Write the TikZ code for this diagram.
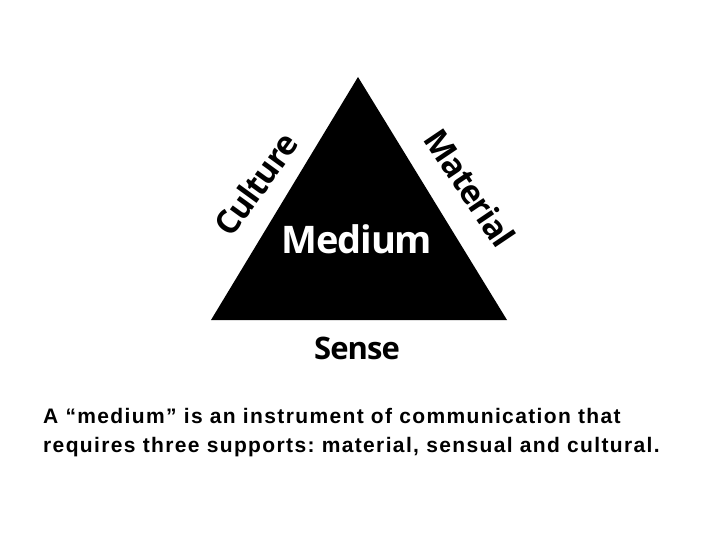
\documentclass[tikz,border=0pt]{standalone}
\usepackage{fontspec}
\setmainfont{Liberation Sans}
\newfontfamily\labelfont{Open Sans}[LetterSpace=-3]
\newfontfamily\capfont{Liberation Sans}[LetterSpace=6.5]
\frenchspacing
\begin{document}
\begin{tikzpicture}[x=1pt,y=-1pt,
  lab/.style={font=\labelfont\bfseries\fontsize{33}{36}\selectfont, inner sep=0pt},
  captext/.style={font=\capfont\bfseries\fontsize{21}{25}\selectfont, inner sep=0pt, anchor=base west}]
\useasboundingbox (0,0) rectangle (720,540);
\fill[white] (0,0) rectangle (720,540);
\coordinate (apex) at (358,77);
\coordinate (bl) at (211,320);
\coordinate (br) at (507,320);
\fill[black] (apex) -- (br) -- (bl) -- cycle;
\node[lab, white, font=\labelfont\bfseries\fontsize{38}{40}\selectfont, anchor=base] (medium) at (357,253) {Medium};
\node[lab, font=\labelfont\bfseries\fontsize{31}{33}\selectfont, anchor=base] (sense) at (357,359) {Sense};
\node[lab, rotate=54] (culture) at (256,184) {Culture};
\node[lab, rotate=-56] (material) at (470,188) {Material};
\node[captext] (cap1) at (43,423) {A “medium” is an instrument of communication that};
\node[captext] (cap2) at (43,452) {requires three supports: material, sensual and cultural.};
\end{tikzpicture}
\end{document}
